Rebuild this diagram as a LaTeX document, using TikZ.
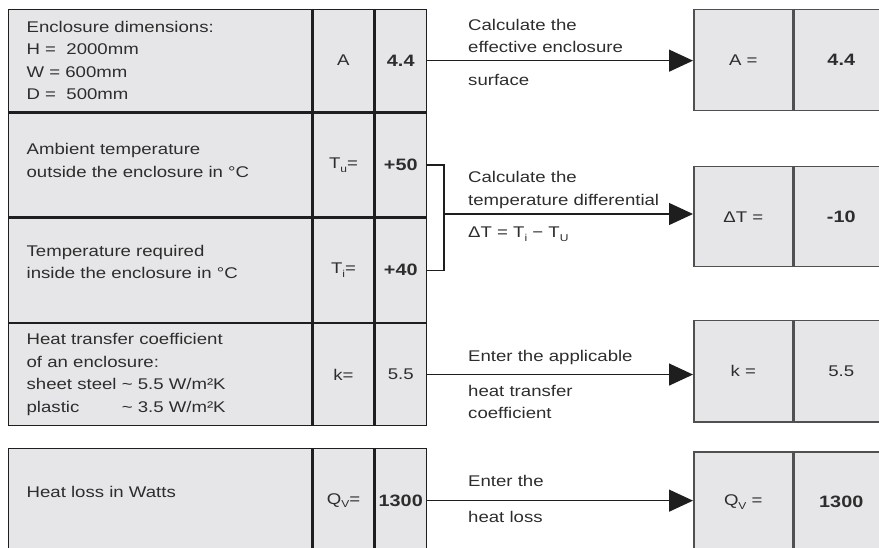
\documentclass[tikz,border=0pt]{standalone}
\usepackage{fontspec}
\setmainfont[FakeStretch=1.2]{Liberation Sans}
\usepackage{tikz}
\usetikzlibrary{arrows.meta, positioning}
\definecolor{cellgray}{RGB}{230,230,232}
\definecolor{rulec}{RGB}{30,30,30}
\definecolor{boxline}{RGB}{80,80,80}
\definecolor{textc}{RGB}{45,45,45}
\newcommand{\lowsub}[1]{\raisebox{-0.45ex}{\fontsize{10}{10}\selectfont #1}}
\newcommand{\valbf}[1]{{\fontsize{16.5}{20}\selectfont\bfseries #1}}

\tikzset{
  cell/.style={draw=rulec, fill=cellgray, line width=1.3pt, anchor=north west, inner sep=0pt, text=textc},
  desc/.style={cell, minimum width=303pt, text width=267pt, inner xsep=18pt, align=left},
  sym/.style={cell, minimum width=61pt},
  val/.style={cell, minimum width=51pt},
  rbox/.style={cell, draw=boxline, line width=1.5pt},
  note/.style={anchor=west, inner sep=0pt, align=left, text=textc},
  flow/.style={draw=rulec, line width=1.3pt, -{Triangle[length=24pt,width=22pt]}}
}

\begin{document}
\begin{tikzpicture}[x=1pt, y=-1pt, font=\fontsize{15.5}{22.5}\selectfont]
  \useasboundingbox (0,0) rectangle (879,548);
  \clip (0,0) rectangle (879,548);

  % input table
  \node[desc, minimum height=102pt] (d1) at (8,9) {Enclosure dimensions:\\H =\ \ 2000mm\\W = 600mm\\D =\ \ 500mm};
  \node[sym, minimum height=102pt] (s1) at (d1.north east) {A};
  \node[val, minimum height=102pt] (v1) at (s1.north east) {\valbf{4.4}};

  \node[desc, minimum height=104pt, text depth=32pt] (d2) at (d1.south west) {Ambient temperature\\outside the enclosure in °C};
  \node[sym, minimum height=104pt] (s2) at (d2.north east) {T\lowsub{u}=};
  \node[val, minimum height=104pt] (v2) at (s2.north east) {\valbf{+50}};

  \node[desc, minimum height=104pt, text depth=39pt] (d3) at (d2.south west) {Temperature required\\inside the enclosure in °C};
  \node[sym, minimum height=104pt] (s3) at (d3.north east) {T\lowsub{i}=};
  \node[val, minimum height=104pt] (v3) at (s3.north east) {\valbf{+40}};

  \node[desc, minimum height=102pt] (d4) at (d3.south west) {Heat transfer coefficient\\of an enclosure:\\sheet steel \textasciitilde{} 5.5 W/m²K\\\leavevmode\rlap{plastic}\phantom{sheet steel} \textasciitilde{} 3.5 W/m²K};
  \node[sym, minimum height=102pt] (s4) at (d4.north east) {k=};
  \node[val, minimum height=102pt] (v4) at (s4.north east) {5.5};

  \node[desc, minimum height=104pt, text depth=18pt] (d5) at (8,448) {Heat loss in Watts};
  \node[sym, minimum height=104pt] (s5) at (d5.north east) {Q\lowsub{V}=};
  \node[val, minimum height=104pt] (v5) at (s5.north east) {\valbf{1300}};

  % result boxes
  \node[rbox, minimum width=99pt, minimum height=101pt] (a1) at (693,9) {A =};
  \node[rbox, minimum width=94pt, minimum height=101pt] (a2) at (a1.north east) {\valbf{4.4}};
  \node[rbox, minimum width=99pt, minimum height=100pt] (t1) at (693,166) {ΔT =};
  \node[rbox, minimum width=94pt, minimum height=100pt] (t2) at (t1.north east) {\valbf{-10}};
  \node[rbox, minimum width=99pt, minimum height=101pt] (k1) at (693,320) {k =};
  \node[rbox, minimum width=94pt, minimum height=101pt] (k2) at (k1.north east) {5.5};
  \node[rbox, minimum width=99pt, minimum height=101pt] (q1) at (693,451) {Q\lowsub{V} =};
  \node[rbox, minimum width=94pt, minimum height=101pt] (q2) at (q1.north east) {\valbf{1300}};

  % connectors
  \draw[flow] (v1.east) -- (v1.east -| a1.west);
  \coordinate (bmid) at (444,214);
  \draw[draw=rulec, line width=1.3pt] (v2.east) -| (bmid) |- (v3.east);
  \draw[flow] (bmid) -- (bmid -| t1.west);
  \draw[flow] (v4.east) -- (v4.east -| k1.west);
  \draw[flow] (v5.east) -- (v5.east -| q1.west);

  % step texts
  \node[note] (calcA) at (468,36) {Calculate the\\effective enclosure};
  \node[note] (surfA) at (468,80) {surface};
  \node[note] (calcT) at (468,190) {Calculate the\\temperature differential};
  \node[note] (formT) at (468,234) {ΔT = T\lowsub{i} − T\lowsub{U}};
  \node[note] (entK) at (468,357) {Enter the applicable};
  \node[note] (htcK) at (468,402) {heat transfer\\coefficient};
  \node[note] (entQ) at (468,481) {Enter the};
  \node[note] (lossQ) at (468,517) {heat loss};
\end{tikzpicture}
\end{document}
